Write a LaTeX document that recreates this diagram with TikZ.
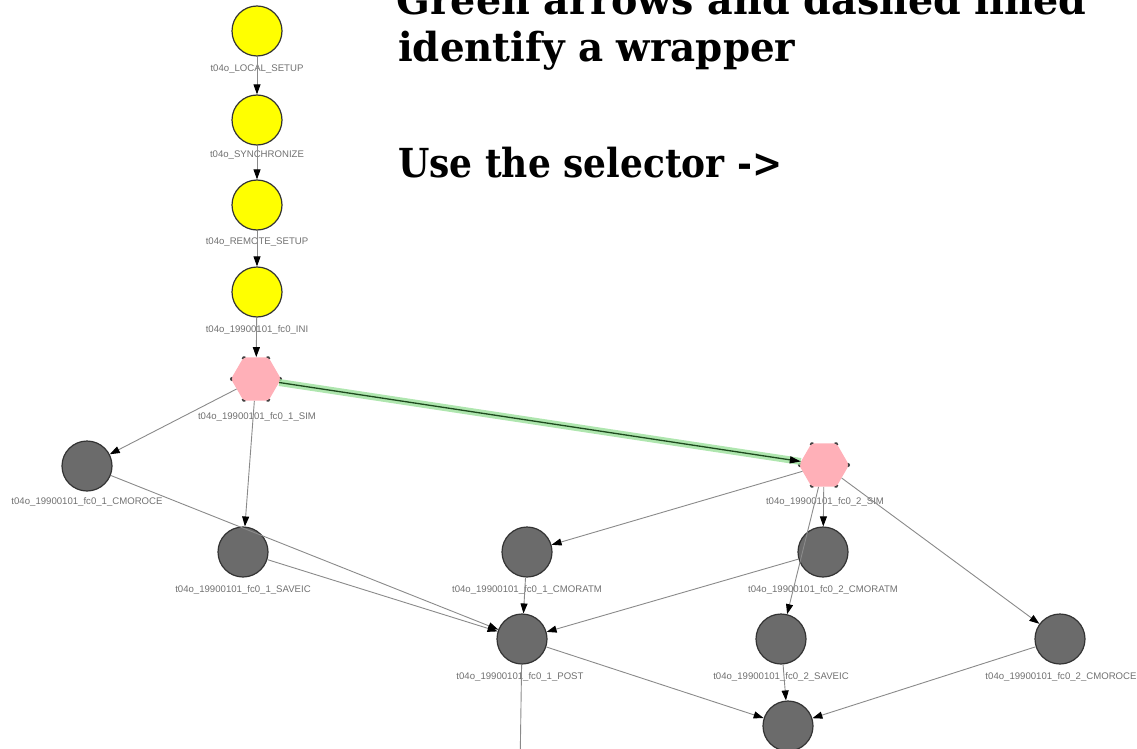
\documentclass[tikz,border=0pt]{standalone}
\usepackage{fontspec}
\setmainfont{Liberation Sans}
\newfontfamily\titlefont{DejaVu Serif}
\usetikzlibrary{arrows.meta,shapes.geometric,calc}
\definecolor{nodeyellow}{HTML}{FFFF00}
\definecolor{nodegrey}{HTML}{6B6B6B}
\definecolor{nodepink}{HTML}{FFB0B8}
\definecolor{edgegrey}{HTML}{8A8A8A}
\definecolor{lblgrey}{HTML}{707070}
\definecolor{wrapglow}{HTML}{9BE09B}
\definecolor{wrapline}{HTML}{1E4A1E}
\begin{document}
\begin{tikzpicture}[x=1pt,y=-1pt,
  job/.style={circle, draw=black!80, line width=1.2pt, minimum size=50pt, inner sep=0pt},
  setup/.style={job, fill=nodeyellow},
  task/.style={job, fill=nodegrey},
  wrap/.style={regular polygon, regular polygon sides=6, fill=nodepink, minimum size=50pt, inner sep=0pt},
  lbl/.style={font=\fontsize{9.6}{11}\selectfont, text=lblgrey, inner sep=0pt},
  dep/.style={draw=edgegrey, line width=0.9pt, -{Triangle[length=10pt,width=7pt,color=black]}},
  plain/.style={draw=edgegrey, line width=0.9pt},
  title/.style={font=\titlefont\bfseries\fontsize{40}{48}\selectfont, anchor=base west, inner sep=0pt}]
\useasboundingbox (0,0) rectangle (1137,749);

% headline text
\node[title] (t1) at (396,15) {\scalebox{0.99}[1]{Green arrows and dashed lined}};
\node[title] (t2) at (398,62) {\scalebox{0.97}[1]{identify a wrapper}};
\node[title] (t3) at (398,177) {\scalebox{0.9}[1]{Use the selector ->}};

% jobs
\node[setup] (y1) at (257,31) {};
\node[setup] (y2) at (257,120) {};
\node[setup] (y3) at (257,205) {};
\node[setup] (y4) at (257,292) {};
\node[wrap] (sim1) at (256,379) {};
\node[wrap] (sim2) at (824,465) {};
\node[task] (cmoroce1) at (87,466) {};
\node[task] (saveic1) at (243,552) {};
\node[task] (cmoratm1) at (527,552) {};
\node[task] (cmoratm2) at (823,552) {};
\node[task] (post1) at (522,639) {};
\node[task] (saveic2) at (781,639) {};
\node[task] (cmoroce2) at (1060,639) {};
\node[task] (post2) at (788,726) {};
\coordinate (post1out) at (520,770);

% dashed corner marks of the wrapper hexagons
\foreach \h in {sim1,sim2}{
  \foreach \i/\p/\q in {1/6/2,2/1/3,3/2/4,4/3/5,5/4/6,6/5/1}{
    \draw[line width=1.5pt, black!75]
      ($(\h.corner \i)!2pt!(\h.corner \p)$) -- (\h.corner \i) -- ($(\h.corner \i)!2pt!(\h.corner \q)$);
  }
}

% labels
\node[lbl] (ly1) at (257,69) {t04o\_LOCAL\_SETUP};
\node[lbl] (ly2) at (257,155) {t04o\_SYNCHRONIZE};
\node[lbl] (ly3) at (257,242) {t04o\_REMOTE\_SETUP};
\node[lbl] (ly4) at (257,330) {t04o\_19900101\_fc0\_INI};
\node[lbl] (lsim1) at (257,417) {t04o\_19900101\_fc0\_1\_SIM};
\node[lbl] (lcmoroce1) at (87,502) {t04o\_19900101\_fc0\_1\_CMOROCE};
\node[lbl] (lsaveic1) at (243,590) {t04o\_19900101\_fc0\_1\_SAVEIC};
\node[lbl] (lcmoratm1) at (527,590) {t04o\_19900101\_fc0\_1\_CMORATM};
\node[lbl] (lsim2) at (825,502) {t04o\_19900101\_fc0\_2\_SIM};
\node[lbl] (lcmoratm2) at (823,590) {t04o\_19900101\_fc0\_2\_CMORATM};
\node[lbl] (lpost1) at (520,677) {t04o\_19900101\_fc0\_1\_POST};
\node[lbl] (lsaveic2) at (781,677) {t04o\_19900101\_fc0\_2\_SAVEIC};
\node[lbl] (lcmoroce2) at (1061,677) {t04o\_19900101\_fc0\_2\_CMOROCE};

% dependencies
\draw[dep] (y1) -- (y2);
\draw[dep] (y2) -- (y3);
\draw[dep] (y3) -- (y4);
\draw[dep] (y4) -- (sim1);
\draw[dep] (sim1) -- (cmoroce1);
\draw[dep] (sim1) -- (saveic1);
\draw[dep] (cmoroce1) -- (post1);
\draw[dep] (saveic1) -- (post1);
\draw[dep] (sim2) -- (cmoratm1);
\draw[dep] (sim2) -- (cmoratm2);
\draw[dep] (sim2) -- (saveic2);
\draw[dep] (sim2) -- (cmoroce2);
\draw[dep] (cmoratm1) -- (post1);
\draw[dep] (cmoratm2) -- (post1);
\draw[dep] (saveic2) -- (post2);
\draw[dep] (cmoroce2) -- (post2);
\draw[dep] (post1) -- (post2);
\draw[plain] (post1) -- (post1out);

% wrapper link
\draw[wrapglow, line width=7pt, opacity=0.8] (sim1) -- (sim2);
\draw[wrapline, line width=1.3pt, -{Triangle[length=11pt,width=7pt,color=black]}] (sim1) -- (sim2);
\end{tikzpicture}
\end{document}
